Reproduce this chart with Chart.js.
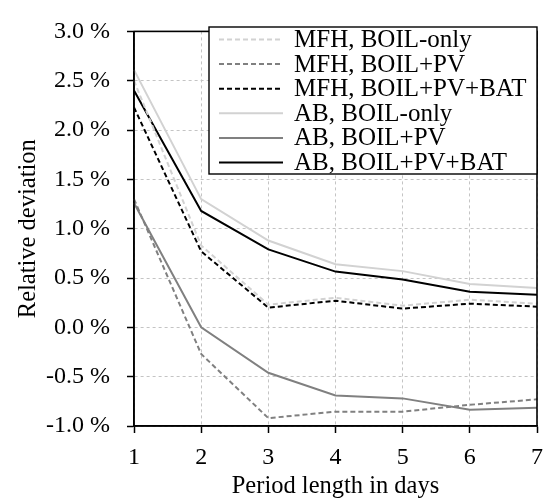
<!DOCTYPE html>
<html>
<head>
<meta charset="utf-8">
<script src="https://cdn.jsdelivr.net/npm/chart.js@4"></script>
<style>
  body { margin: 0; background: #fff; }
</style>
</head>
<body>
<canvas id="chart" width="553" height="502"></canvas>
<script>
// period length in days
const days = ['1', '2', '3', '4', '5', '6', '7'];

// relative deviation in %
const mfhBoilOnly  = [2.50, 0.83, 0.23, 0.30, 0.22, 0.28, 0.24];
const mfhBoilPv    = [1.30, -0.27, -0.92, -0.855, -0.855, -0.785, -0.73];
const mfhBoilPvBat = [2.23, 0.77, 0.20, 0.27, 0.19, 0.24, 0.21];
const abBoilOnly   = [2.61, 1.30, 0.88, 0.64, 0.57, 0.44, 0.40];
const abBoilPv     = [1.26, 0.00, -0.46, -0.69, -0.72, -0.835, -0.815];
const abBoilPvBat  = [2.40, 1.18, 0.79, 0.565, 0.485, 0.36, 0.33];

const yTicks = [-1.0, -0.5, 0.0, 0.5, 1.0, 1.5, 2.0, 2.5, 3.0];

const LIGHT = '#d2d2d2';
const MID = '#808080';
const DARK = '#000000';
const FONT = 'Liberation Serif';

const series = [
  { label: 'MFH, BOIL-only',     data: mfhBoilOnly,  color: LIGHT, dash: [5, 3] },
  { label: 'MFH, BOIL+PV',       data: mfhBoilPv,    color: MID,   dash: [5, 3] },
  { label: 'MFH, BOIL+PV+BAT',   data: mfhBoilPvBat, color: DARK,  dash: [5, 3] },
  { label: 'AB, BOIL-only',      data: abBoilOnly,   color: LIGHT, dash: [] },
  { label: 'AB, BOIL+PV',        data: abBoilPv,     color: MID,   dash: [] },
  { label: 'AB, BOIL+PV+BAT',    data: abBoilPvBat,  color: DARK,  dash: [] }
];

// box around plot + legend inside the plot area
const framePlugin = {
  id: 'frameAndLegend',
  afterDatasetsDraw(chart) {
    const ctx = chart.ctx;
    const a = chart.chartArea;
    ctx.save();
    ctx.strokeStyle = '#000';
    ctx.lineWidth = 1.6;
    ctx.setLineDash([]);
    ctx.strokeRect(a.left, a.top, a.right - a.left, a.bottom - a.top);

    // legend
    const lx = 209, ly = 27, lw = 328, lh = 147;
    ctx.fillStyle = '#fff';
    ctx.fillRect(lx, ly, lw, lh);
    ctx.lineWidth = 1.4;
    ctx.strokeRect(lx, ly, lw, lh);
    ctx.font = '25px "' + FONT + '"';
    ctx.textBaseline = 'middle';
    ctx.textAlign = 'left';
    chart.data.datasets.forEach((ds, i) => {
      const y = 39.5 + i * 24.6;
      ctx.beginPath();
      ctx.strokeStyle = ds.borderColor;
      ctx.lineWidth = ds.borderWidth;
      ctx.setLineDash(ds.borderDash);
      ctx.moveTo(219, y);
      ctx.lineTo(283, y);
      ctx.stroke();
      ctx.setLineDash([]);
      ctx.fillStyle = '#000';
      ctx.fillText(ds.label, 294, y + 1);
    });
    ctx.restore();
  }
};

new Chart(document.getElementById('chart'), {
  type: 'line',
  data: {
    labels: days,
    datasets: series.map(s => ({
      label: s.label,
      data: s.data,
      borderColor: s.color,
      backgroundColor: s.color,
      borderDash: s.dash,
      borderWidth: 2,
      pointRadius: 0,
      tension: 0,
      fill: false
    }))
  },
  options: {
    responsive: false,
    animation: false,
    layout: { padding: { left: 0, top: 20, right: 11, bottom: 0 } },
    plugins: {
      legend: { display: false },
      tooltip: { enabled: false }
    },
    scales: {
      x: {
        offset: false,
        afterFit: (scale) => { scale.height = 76; },
        grid: { color: '#c4c4c4', lineWidth: 1, tickLength: 7, tickColor: '#000', tickWidth: 1.5 },
        border: { display: true, color: '#000', width: 1.6, dash: [3, 3] },
        ticks: { color: '#000', padding: 10, font: { family: FONT, size: 24 }, maxRotation: 0 },
        title: {
          display: true,
          text: 'Period length in days',
          color: '#000',
          font: { family: FONT, size: 24.5 },
          padding: { top: 0, bottom: 1 }
        }
      },
      y: {
        min: -1,
        max: 3,
        afterFit: (scale) => { scale.width = 134; },
        afterBuildTicks: (scale) => { scale.ticks = yTicks.map(v => ({ value: v })); },
        grid: { color: '#c4c4c4', lineWidth: 1, tickLength: 7, tickColor: '#000', tickWidth: 1.5 },
        border: { display: true, color: '#000', width: 1.6, dash: [3, 3] },
        ticks: {
          color: '#000',
          padding: 17,
          font: { family: FONT, size: 24 },
          callback: (v) => v.toFixed(1) + ' %'
        },
        title: {
          display: true,
          text: 'Relative deviation',
          color: '#000',
          font: { family: FONT, size: 24.5 },
          padding: { top: 14, bottom: 0 }
        }
      }
    }
  },
  plugins: [framePlugin]
});
</script>
</body>
</html>
